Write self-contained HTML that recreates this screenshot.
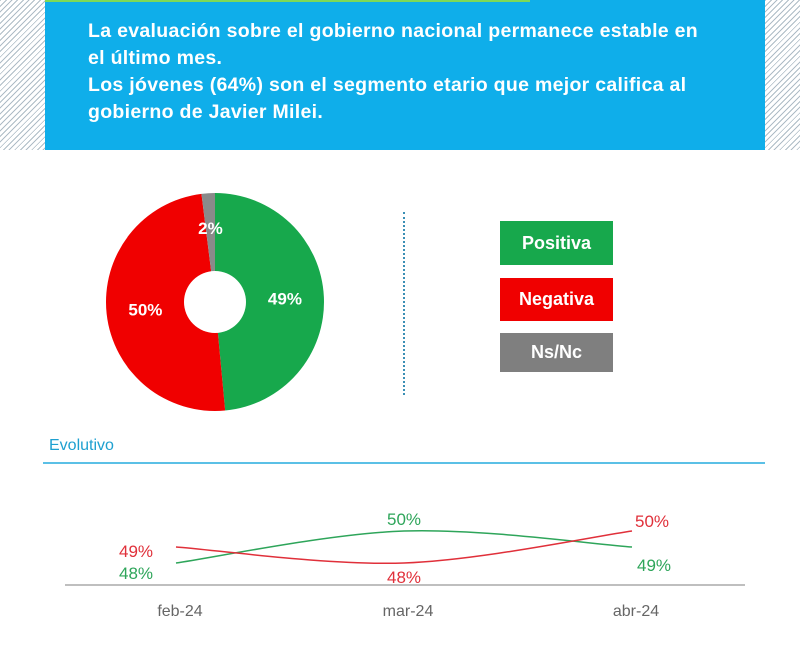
<!DOCTYPE html>
<html><head><meta charset="utf-8"><style>
body{margin:0;width:800px;height:652px;background:#fff;overflow:hidden;font-family:"Liberation Sans",sans-serif;position:relative}
.hatch{position:absolute;top:0;height:150px;background:repeating-linear-gradient(135deg,#aebcc6 0 1px,#fff 1px 4px)}
.box{position:absolute;left:45px;top:0;width:720px;height:150px;background:#0faeea}
.box p{position:absolute;left:43px;top:18px;margin:0;color:#fff;font-weight:bold;font-size:19.5px;line-height:27px;letter-spacing:0.3px;white-space:nowrap}
.leg{position:absolute;left:500px;width:113px;color:#fff;font-weight:bold;font-size:18px;display:flex;align-items:center;justify-content:center}
</style></head><body>
<div class="hatch" style="left:0;width:45px"></div>
<div class="hatch" style="left:765px;width:35px"></div>
<div class="box">
<div style="position:absolute;left:0;top:0;width:485px;height:2px;background:#7ed957"></div>
<p>La evaluación sobre el gobierno nacional permanece estable en<br>el último mes.<br>Los jóvenes (64%) son el segmento etario que mejor califica al<br>gobierno de Javier Milei.</p>
</div>
<svg id="pie" width="800" height="652" style="position:absolute;left:0;top:0"></svg>
<div style="position:absolute;left:403px;top:212px;height:183px;border-left:2px dotted #3a8fb5"></div>
<div class="leg" style="top:221px;height:44px;background:#17a84c">Positiva</div>
<div class="leg" style="top:278px;height:43px;background:#f00000">Negativa</div>
<div class="leg" style="top:333px;height:39px;background:#7f7f7f">Ns/Nc</div>
<div style="position:absolute;left:49px;top:437px;font-size:16px;color:#1ea0d0">Evolutivo</div>
<div style="position:absolute;left:43px;top:462px;width:722px;height:2px;background:#5bc0e6"></div>
<svg id="line" width="800" height="652" style="position:absolute;left:0;top:0"></svg>
<script>
const NS="http://www.w3.org/2000/svg";
const pieLabels=["Positiva","Negativa","Ns/Nc"];
const pieValues=[49,50,2];
const pieText=["49%","50%","2%"];
const pieColors=["#17a84c","#f00000","#8a8a8a"];
const months=["feb-24","mar-24","abr-24"];
const positiva=[48,50,49];
const negativa=[49,48,50];
function mk(svg,t,a){const e=document.createElementNS(NS,t);for(const k in a)e.setAttribute(k,a[k]);svg.appendChild(e);return e;}
const pie=document.getElementById('pie');
const cx=215,cy=302,R=109,r=31;
const tot=pieValues.reduce((a,b)=>a+b,0);
let a0=0;
pieValues.forEach((v,i)=>{
  const a1=a0+v/tot*2*Math.PI;
  const p=(a)=>[cx+R*Math.sin(a),cy-R*Math.cos(a)];
  const [x0,y0]=p(a0),[x1,y1]=p(a1);
  const s=mk(pie,'path',{d:`M${cx},${cy}L${x0},${y0}A${R},${R} 0 ${a1-a0>Math.PI?1:0} 1 ${x1},${y1}Z`,fill:pieColors[i]});
  
  
  const am=(a0+a1)/2, rr=(i==2)?74:70;
  let lx=cx+rr*Math.sin(am), ly=cy-rr*Math.cos(am);
  const t=mk(pie,'text',{x:lx,y:ly+6,'text-anchor':'middle',fill:'#fff','font-size':17,'font-weight':'bold'});
  t.textContent=pieText[i];
  
  
  a0=a1;
});
const hole=mk(pie,'circle',{cx,cy,r,fill:'#fff'});


const L=document.getElementById('line');
const xs=i=>176+i*228;
const ys=v=>547-(v-49)*16;
const ax=mk(L,'line',{x1:65,x2:745,y1:585,y2:585,stroke:'#aaa','stroke-width':1.5});


months.forEach((m,i)=>{const t=mk(L,'text',{x:xs(i)+4,y:616,'text-anchor':'middle',fill:'#666','font-size':16});t.textContent=m;

});
function curve(vals){const P=vals.map((v,i)=>[xs(i),ys(v)]);let d=`M${P[0][0]},${P[0][1]}`;
for(let i=0;i<P.length-1;i++){const p0=P[Math.max(i-1,0)],p1=P[i],p2=P[i+1],p3=P[Math.min(i+2,P.length-1)];
d+=`C${p1[0]+(p2[0]-p0[0])/6},${p1[1]+(p2[1]-p0[1])/6} ${p2[0]-(p3[0]-p1[0])/6},${p2[1]-(p3[1]-p1[1])/6} ${p2[0]},${p2[1]}`;}return d;}
const series=[[positiva,'#2ea55a','series-positiva',[[-40,10],[0,-12],[22,18]]],[negativa,'#e0303a','series-negativa',[[-40,4],[0,14],[20,-10]]]];
series.forEach(([vals,col,nm,off])=>{
  const p=mk(L,'path',{d:curve(vals),fill:'none',stroke:col,'stroke-width':1.5});
  
  
  vals.forEach((v,i)=>{const t=mk(L,'text',{x:xs(i)+off[i][0],y:ys(v)+off[i][1]+6,'text-anchor':'middle',fill:col,'font-size':17});t.textContent=v+'%';
  
  });
});
</script>
</body></html>
